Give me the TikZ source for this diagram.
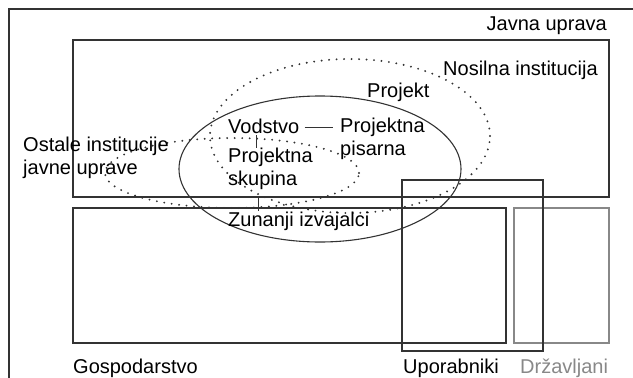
\documentclass[tikz,border=0pt]{standalone}
\usepackage{fontspec}
\setmainfont{Liberation Sans}
\usetikzlibrary{calc}
\definecolor{asphalt}{RGB}{51, 51, 51}
\definecolor{concrete}{RGB}{136, 136, 136}

\tikzset{
    txt/.style={inner sep=0pt, text=black, font=\fontsize{20}{23}\selectfont, align=left},
    boxline/.style={asphalt, line width=1.2pt},
    dotline/.style={asphalt, line width=2.1pt, line cap=round, dash pattern=on 0pt off 7.5pt},
    joint/.style={asphalt, line width=1.1pt},
}

\begin{document}
\begin{tikzpicture}[x=1pt, y=-1pt]
            \useasboundingbox (0,0) rectangle (633,378);
            % Outer frame
            \draw[boxline]                (  9,378) -- (  9,  9) -- (633,  9);
            % Sectors
            \draw[boxline]                ( 73, 40) rectangle (609,197);
            \draw[boxline]                ( 73,208) rectangle (506,343);
            \draw[boxline, concrete]      (514,208) rectangle (609,343);
            \draw[boxline]                (402,180) rectangle (543,351);
            % Institutions
            \draw[dotline]                (350,136) ellipse [x radius=140pt, y radius=77pt];
            \draw[dotline]                (232,173) ellipse [x radius=127pt, y radius=35pt];
            % Project
            \draw[joint]                  (320,169) ellipse [x radius=141pt, y radius=73pt];

            % Sector labels
            \node[txt, anchor=base east]  (javna)   at (607, 30) {Javna uprava};
            \node[txt, anchor=base west]  (gosp)    at ( 73,373) {Gospodarstvo};
            \node[txt, anchor=base west]  (upor)    at (403,373) {Uporabniki};
            \node[txt, anchor=base west, text=concrete] (drzav) at (520,373) {Državljani};
            % Institution labels
            \node[txt, anchor=base west]  (nosilna) at (443, 75) {Nosilna institucija};
            \node[txt, anchor=north west] (ostale)  at ( 23,137) {Ostale institucije\\javne uprave};
            % Project roles
            \node[txt, anchor=base west]  (projekt) at (367, 97) {Projekt};
            \node[txt, anchor=base west]  (vodstvo) at (228,133) {Vodstvo};
            \node[txt, anchor=north west] (pisarna) at (340,118) {Projektna\\pisarna};
            \node[txt, anchor=north west] (skupina) at (228,148) {Projektna\\skupina};
            \node[txt, anchor=base west]  (zunanji) at (228,226) {Zunanji izvajalci};
            % Role links
            \draw[joint] ([xshift=5pt, yshift=-2pt]vodstvo.east) -- ([xshift=-7pt, yshift=-2pt]vodstvo.east -| pisarna.west);
            \draw[joint] ([xshift=-7pt, yshift=-2pt]vodstvo.south) -- ([xshift=-7pt]vodstvo.south |- skupina.north);
            \draw[joint] ([xshift=-12pt, yshift=-6pt]skupina.south) -- ([xshift=-12pt]skupina.south |- zunanji.north);
\end{tikzpicture}
\end{document}
